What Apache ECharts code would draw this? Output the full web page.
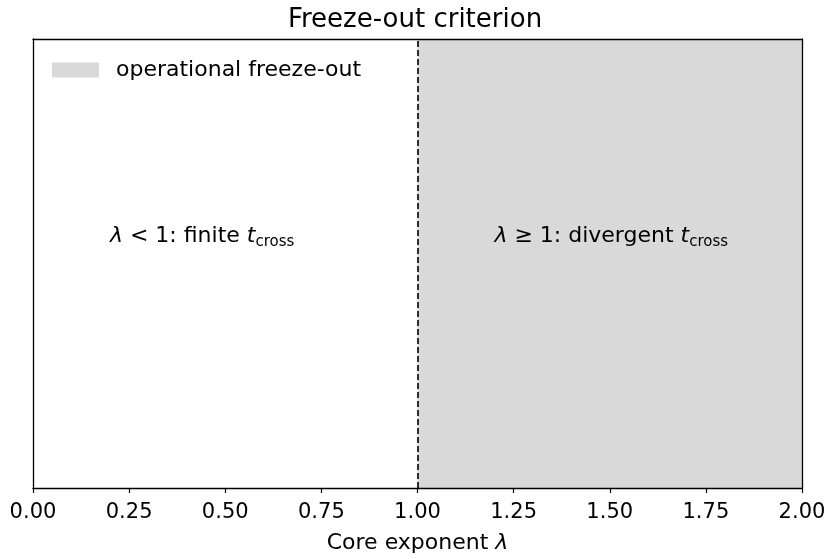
<!DOCTYPE html>
<html>
<head>
<meta charset="utf-8">
<script src="https://cdn.jsdelivr.net/npm/echarts@6/dist/echarts.min.js"></script>
<style>
  html, body { margin: 0; padding: 0; background: #fff; }
  #chart { width: 830px; height: 559px; }
</style>
</head>
<body>
<div id="chart"></div>
<script>
// x range and ticks
const xMin = 0;
const xMax = 2;
const xStep = 0.25;
// threshold where freeze-out starts
const threshold = 1;
// shaded region [from, to]
const shadedRange = [1, 2];
// annotation anchors [x, y] (y in 0..1 axis fraction)
const leftNote = [0.2, 0.56];
const rightNote = [1.2, 0.56];

const font = 'DejaVu Sans';

const chart = echarts.init(document.getElementById('chart'));

const options = {
  animation: false,
  backgroundColor: '#fff',
  title: {
    text: 'Freeze-out criterion',
    left: 'center',
    top: 2,
    textStyle: { fontFamily: font, fontSize: 26, fontWeight: 'normal', color: '#000' },
  },
  legend: {
    left: 47,
    top: 54,
    itemWidth: 47,
    itemHeight: 15,
    icon: 'rect',
    textStyle: { fontFamily: font, fontSize: 22, color: '#000', padding: [0, 0, 0, 12] },
    data: ['operational freeze-out'],
  },
  grid: { left: 33, right: 28, top: 39, bottom: 70, containLabel: false },
  xAxis: [
    {
      type: 'value',
      min: xMin,
      max: xMax,
      interval: xStep,
      z: 10,
      name: 'Core exponent {i|λ}',
      nameLocation: 'middle',
      nameGap: 44,
      nameTextStyle: {
        fontFamily: font, fontSize: 22, color: '#000',
        rich: { i: { fontFamily: font, fontSize: 22, fontStyle: 'italic', color: '#000' } },
      },
      axisLine: { show: true, onZero: false, lineStyle: { color: '#000', width: 1.3 } },
      axisTick: { show: true, length: 5, lineStyle: { color: '#000', width: 1.2 } },
      axisLabel: {
        fontFamily: font, fontSize: 21, color: '#000', margin: 14,
        formatter: (v) => v.toFixed(2),
      },
      splitLine: { show: false },
    },
    {
      type: 'value',
      position: 'top',
      min: xMin,
      max: xMax,
      z: 10,
      axisLine: { show: true, onZero: false, lineStyle: { color: '#000', width: 1.3 } },
      axisTick: { show: false },
      axisLabel: { show: false },
      splitLine: { show: false },
    },
  ],
  yAxis: [
    {
      type: 'value',
      min: 0,
      max: 1,
      z: 10,
      axisLine: { show: true, onZero: false, lineStyle: { color: '#000', width: 1.3 } },
      axisTick: { show: false },
      axisLabel: { show: false },
      splitLine: { show: false },
    },
    {
      type: 'value',
      position: 'right',
      min: 0,
      max: 1,
      z: 10,
      axisLine: { show: true, onZero: false, lineStyle: { color: '#000', width: 1.3 } },
      axisTick: { show: false },
      axisLabel: { show: false },
      splitLine: { show: false },
    },
  ],
  series: [
    {
      name: 'operational freeze-out',
      type: 'line',
      data: [],
      itemStyle: { color: '#d9d9d9' },
      markArea: {
        silent: true,
        itemStyle: { color: '#d9d9d9' },
        data: [[{ xAxis: shadedRange[0] }, { xAxis: shadedRange[1] }]],
      },
      markLine: {
        silent: true,
        symbol: ['none', 'none'],
        label: { show: false },
        lineStyle: { color: '#000', type: [6, 3], width: 1.6 },
        data: [{ xAxis: threshold }],
      },
    },
    {
      name: 'notes',
      type: 'scatter',
      symbolSize: 0,
      z: 5,
      itemStyle: { opacity: 1 },
      data: [
        { value: leftNote, label: { formatter: '{i|λ} < 1: finite {i|t}{sub|cross}' } },
        { value: rightNote, label: { formatter: '{i|λ} ≥ 1: divergent {i|t}{sub|cross}' } },
      ],
      label: {
        show: true,
        position: 'inside',
        align: 'left',
        verticalAlign: 'middle',
        fontFamily: font,
        fontSize: 22,
        color: '#000',
        opacity: 1,
        rich: {
          i: { fontFamily: font, fontSize: 22, fontStyle: 'italic', color: '#000' },
          sub: { fontFamily: font, fontSize: 15, color: '#000', padding: [12, 0, 0, 0] },
        },
      },
    },
  ],
};

chart.setOption(options);
</script>
</body>
</html>
